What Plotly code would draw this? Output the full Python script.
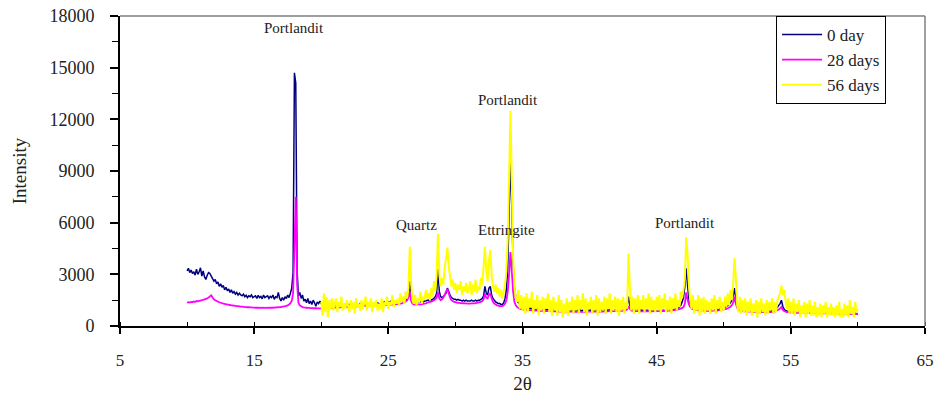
import numpy as np
import plotly.graph_objects as go

# sample grid (2-theta, degrees)
X0_START, X_STEP = 10.0, 0.1
Y56_START = 20.0

day0 = [
    3200, 3350, 3100, 3250, 3050, 3150, 2950, 3300, 3000, 3150,
    3380, 2900, 3200, 2850, 2700, 2950, 3100, 3050, 2900, 2750,
    2600, 2700, 2450, 2550, 2300, 2450, 2250, 2350, 2100, 2250,
    2050, 2150, 1950, 2100, 1900, 2000, 1850, 1950, 1800, 1900,
    1800, 1750, 1850, 1700, 1780, 1650, 1750, 1700, 1800, 1650,
    1700, 1750, 1600, 1780, 1650, 1720, 1580, 1800, 1650, 1700,
    1750, 1600, 1720, 1650, 1800, 1550, 1700, 1650, 1950, 1600,
    1450, 1650, 1500, 1700, 1600, 1800, 1650, 1900, 2200, 3100,
    14700, 14100, 3200, 1750, 1950, 1600, 1800, 1450, 1550, 1350,
    1600, 1300, 1450, 1250, 1500, 1350, 1150, 1400, 1300, 1450,
    1300, 1250, 1350, 1200, 1300, 1150, 1250, 1200, 1300, 1250,
    1200, 1300, 1150, 1250, 1200, 1350, 1200, 1250, 1150, 1300,
    1250, 1200, 1300, 1150, 1250, 1200, 1300, 1250, 1200, 1300,
    1250, 1300, 1200, 1350, 1250, 1300, 1200, 1250, 1300, 1250,
    1300, 1250, 1350, 1300, 1250, 1350, 1300, 1400, 1300, 1350,
    1400, 1350, 1450, 1400, 1350, 1450, 1400, 1500, 1450, 1500,
    1450, 1400, 1450, 1500, 1550, 1700, 2600, 1600, 1450, 1400,
    1400, 1450, 1400, 1450, 1400, 1450, 1400, 1450, 1450, 1500,
    1500, 1550, 1500, 1550, 1600, 1700, 1900, 3300, 2000, 1700,
    1650, 1700, 1800, 1900, 2200, 2000, 1800, 1650, 1600, 1550,
    1550, 1500, 1550, 1500, 1500, 1450, 1500, 1450, 1500, 1450,
    1450, 1450, 1500, 1450, 1450, 1500, 1450, 1500, 1500, 1550,
    1600, 1750, 2300, 1900, 1800, 2200, 2300, 1800, 1600, 1500,
    1400, 1350, 1300, 1300, 1250, 1250, 1350, 1600, 2100, 3400,
    6500, 9600, 7000, 3600, 2200, 1700, 1450, 1350, 1300, 1250,
    1150, 1100, 1100, 1050, 1050, 1020, 1030, 1000, 1010, 990,
    980, 1000, 960, 990, 950, 970, 940, 980, 950, 960,
    930, 960, 920, 950, 930, 950, 910, 940, 920, 940,
    910, 930, 890, 920, 900, 930, 890, 910, 890, 920,
    890, 920, 900, 930, 890, 910, 890, 930, 900, 920,
    900, 930, 890, 920, 910, 940, 900, 920, 900, 930,
    910, 940, 900, 930, 910, 950, 910, 940, 930, 960,
    940, 970, 930, 960, 950, 980, 960, 1020, 1150, 1700,
    1200, 980, 950, 920, 950, 910, 940, 900, 930, 910,
    890, 930, 900, 920, 890, 930, 880, 910, 890, 920,
    880, 910, 890, 930, 900, 920, 890, 940, 910, 940,
    920, 960, 940, 980, 970, 1010, 1040, 1100, 1200, 1400,
    1650, 2300, 3350, 2400, 1550, 1250, 1080, 1020, 980, 950,
    920, 950, 900, 940, 900, 930, 900, 940, 910, 950,
    920, 960, 930, 960, 940, 980, 970, 1000, 1020, 1050,
    1070, 1100, 1130, 1180, 1250, 1350, 1500, 1750, 2200, 1550,
    1150, 1000, 960, 920, 940, 900, 930, 890, 920, 880,
    900, 870, 890, 860, 880, 850, 870, 860, 880, 850,
    870, 840, 860, 850, 870, 860, 890, 910, 940, 1000,
    1080, 1200, 1300, 1500, 1150, 980, 900, 870, 850, 840,
    850, 820, 840, 810, 830, 800, 820, 800, 810, 790,
    810, 780, 800, 780, 790, 770, 790, 770, 790, 760,
    780, 750, 770, 750, 760, 740, 760, 740, 760, 740,
    750, 730, 750, 720, 740, 720, 740, 720, 740, 710,
    730, 710, 730, 700, 720, 700, 720, 700, 720, 700,
    710,
]

days28 = [
    1350, 1380, 1360, 1400, 1390, 1420, 1400, 1450, 1430, 1460,
    1480, 1500, 1520, 1550, 1580, 1600, 1650, 1720, 1780, 1650,
    1550, 1500, 1450, 1420, 1380, 1350, 1330, 1300, 1280, 1260,
    1250, 1230, 1220, 1200, 1190, 1180, 1170, 1160, 1150, 1140,
    1130, 1120, 1110, 1100, 1100, 1090, 1090, 1080, 1080, 1070,
    1070, 1060, 1070, 1060, 1050, 1060, 1050, 1060, 1050, 1050,
    1060, 1050, 1060, 1070, 1060, 1080, 1070, 1090, 1080, 1100,
    1100, 1120, 1130, 1150, 1170, 1200, 1250, 1330, 1450, 1900,
    4500, 7500, 2400, 1350, 1200, 1150, 1100, 1080, 1070, 1060,
    1050, 1050, 1040, 1040, 1030, 1030, 1030, 1020, 1020, 1020,
    1020, 1030, 1030, 1040, 1040, 1050, 1050, 1060, 1060, 1070,
    1070, 1080, 1080, 1090, 1090, 1100, 1100, 1100, 1110, 1110,
    1110, 1120, 1120, 1120, 1130, 1130, 1130, 1140, 1140, 1140,
    1150, 1150, 1150, 1160, 1160, 1160, 1170, 1170, 1170, 1180,
    1180, 1180, 1190, 1190, 1200, 1200, 1200, 1210, 1210, 1220,
    1220, 1230, 1230, 1240, 1240, 1250, 1260, 1270, 1280, 1300,
    1320, 1350, 1380, 1420, 1500, 1650, 2000, 1450, 1300, 1250,
    1240, 1240, 1250, 1250, 1260, 1270, 1280, 1300, 1320, 1350,
    1380, 1400, 1420, 1450, 1500, 1550, 1650, 1950, 1600, 1500,
    1550, 1650, 1800, 2000, 2150, 1900, 1650, 1500, 1450, 1400,
    1380, 1360, 1350, 1340, 1330, 1320, 1320, 1310, 1310, 1300,
    1300, 1300, 1310, 1310, 1320, 1330, 1340, 1360, 1380, 1400,
    1450, 1550, 1850, 1650, 1600, 1800, 1900, 1600, 1400, 1300,
    1250, 1200, 1180, 1160, 1150, 1150, 1200, 1300, 1500, 2000,
    3000, 4300, 3200, 2000, 1400, 1200, 1100, 1050, 1000, 980,
    960, 950, 940, 930, 930, 920, 920, 910, 910, 900,
    900, 890, 890, 880, 880, 880, 870, 870, 870, 870,
    860, 860, 860, 850, 850, 850, 850, 840, 840, 840,
    840, 840, 830, 830, 830, 830, 830, 830, 820, 820,
    820, 820, 820, 820, 820, 820, 820, 820, 820, 830,
    830, 830, 830, 830, 830, 840, 840, 840, 840, 840,
    840, 850, 850, 850, 850, 860, 860, 860, 860, 870,
    870, 870, 880, 880, 880, 890, 900, 920, 960, 1150,
    1000, 900, 880, 870, 870, 860, 860, 860, 850, 850,
    850, 850, 850, 850, 850, 850, 850, 850, 860, 860,
    860, 860, 860, 870, 870, 870, 880, 880, 890, 890,
    900, 900, 910, 920, 930, 940, 960, 980, 1010, 1050,
    1100, 1300, 1950, 1550, 1250, 1100, 1020, 980, 950, 930,
    920, 910, 900, 900, 890, 890, 890, 880, 880, 880,
    880, 880, 890, 890, 900, 900, 910, 920, 930, 950,
    960, 980, 1000, 1030, 1070, 1120, 1200, 1350, 1700, 1300,
    1050, 950, 900, 880, 860, 850, 850, 840, 840, 830,
    830, 830, 820, 820, 820, 810, 810, 810, 810, 800,
    800, 800, 800, 800, 800, 800, 810, 820, 840, 870,
    910, 960, 1020, 1100, 950, 870, 830, 810, 800, 790,
    790, 780, 780, 780, 770, 770, 770, 770, 760, 760,
    760, 760, 760, 750, 750, 750, 750, 750, 750, 740,
    740, 740, 740, 740, 740, 740, 730, 730, 730, 730,
    730, 730, 730, 730, 720, 720, 720, 720, 720, 720,
    720, 720, 720, 720, 720, 710, 710, 710, 710, 710,
    710,
]

days56 = [
    1400, 600, 1900, 800, 1700, 500, 1500, 1000, 1600, 900,
    1300, 1600, 800, 1400, 1100, 1700, 900, 1300, 1000, 1500,
    1200, 800, 1500, 1000, 1400, 700, 1600, 1100, 1300, 900,
    1500, 1000, 1300, 1700, 900, 1400, 1100, 1600, 800, 1400,
    1100, 1500, 900, 1300, 1000, 1600, 800, 1400, 1200, 1700,
    1000, 1400, 1200, 1800, 1100, 1500, 1300, 1600, 1200, 1900,
    1400, 1700, 1300, 2000, 1600, 2200, 4600, 2500, 1500, 1300,
    1800, 1200, 1600, 1400, 2000, 1300, 1700, 1500, 2100, 1600,
    1900, 1500, 2200, 1700, 2600, 2000, 2900, 5350, 3000, 2300,
    2800, 2400, 3400, 3900, 4550, 3500, 2900, 2300, 2700, 2100,
    2500, 1900, 2400, 2100, 2600, 1800, 2300, 2000, 2500, 1900,
    2200, 2600, 1800, 2400, 2000, 2700, 1900, 2300, 2100, 2800,
    2400, 3500, 4600, 3200, 2600, 3800, 4400, 3000, 2300, 2000,
    2400, 1900, 2200, 1700, 2100, 1600, 2000, 2400, 3200, 5000,
    8500, 12500, 8500, 4000, 2300, 1600, 1400, 2100, 1000, 1800,
    900, 1700, 700, 1900, 800, 1600, 1100, 2000, 700, 1500,
    1000, 1800, 600, 1500, 900, 1700, 700, 1600, 1000, 1900,
    800, 1500, 600, 1700, 900, 1400, 600, 1800, 800, 1500,
    500, 1300, 700, 1600, 600, 1400, 900, 1700, 700, 1500,
    900, 1800, 700, 1500, 1000, 1900, 800, 1600, 600, 1400,
    1000, 1700, 700, 1500, 900, 1800, 600, 1600, 800, 1400,
    900, 1700, 700, 1600, 1000, 1900, 700, 1500, 900, 1700,
    800, 1600, 600, 1500, 900, 1700, 700, 1400, 1000, 4200,
    2300, 900, 1700, 700, 1600, 900, 1800, 700, 1500, 1000,
    1800, 800, 1600, 1000, 1900, 700, 1700, 900, 1500, 800,
    1700, 900, 1800, 700, 1600, 1000, 1900, 800, 1500, 900,
    1700, 700, 1600, 1000, 1900, 900, 1500, 1100, 2000, 1600,
    2100, 2700, 5150, 4200, 2400, 1500, 1000, 1800, 700, 1500,
    900, 1800, 600, 1600, 800, 1700, 700, 1500, 900, 1400,
    700, 1600, 900, 1800, 700, 1500, 1000, 1700, 800, 1400,
    900, 1700, 1100, 1900, 1200, 2100, 1500, 2400, 3950, 2800,
    1200, 800, 1700, 700, 1500, 800, 1600, 600, 1400, 800,
    1600, 600, 1300, 800, 1500, 500, 1400, 700, 1600, 800,
    1300, 600, 1500, 700, 1400, 900, 1600, 700, 1400, 800,
    1500, 1700, 1900, 2350, 1800, 2100, 1500, 1000, 1600, 700,
    1400, 700, 1600, 600, 1300, 800, 1500, 500, 1200, 700,
    1400, 500, 1300, 700, 1500, 600, 1200, 600, 1400, 500,
    1100, 600, 1300, 500, 1200, 700, 1400, 500, 1100, 600,
    1300, 600, 1100, 500, 1200, 600, 1400, 500, 1000, 500,
    1300, 600, 1200, 500, 1500, 700, 1100, 500, 1400, 800,
    1000,
]

series_names = ["0 day", "28 days", "56 days"]
series_colors = ["#000080", "#FF00FF", "#FFFF00"]

x_full = np.round(X0_START + X_STEP * np.arange(len(day0)), 2)
x_56 = np.round(Y56_START + X_STEP * np.arange(len(days56)), 2)

peak_labels = ["Portlandit", "Portlandit", "Quartz", "Ettringite", "Portlandit"]
peak_label_x = [18.0, 33.9, 27.1, 33.8, 47.1]
peak_label_y = [17300, 13100, 5850, 5550, 6000]

x_ticks = [5, 15, 25, 35, 45, 55, 65]
y_ticks = [0, 3000, 6000, 9000, 12000, 15000, 18000]

FONT = "Liberation Serif, Times New Roman, serif"

fig = go.Figure()
fig.add_trace(go.Scatter(x=x_full, y=day0, mode="lines", name=series_names[0],
                         line=dict(color=series_colors[0], width=1.5, simplify=False)))
fig.add_trace(go.Scatter(x=x_full, y=days28, mode="lines", name=series_names[1],
                         line=dict(color=series_colors[1], width=1.8, simplify=False)))
fig.add_trace(go.Scatter(x=x_56, y=days56, mode="lines", name=series_names[2],
                         line=dict(color=series_colors[2], width=2, simplify=False)))

for t, ax, ay in zip(peak_labels, peak_label_x, peak_label_y):
    fig.add_annotation(x=ax, y=ay, text=t, showarrow=False,
                       font=dict(family=FONT, size=15, color="#222222"))

# grey frame on top and right
fig.add_shape(type="line", xref="paper", yref="paper", x0=0, x1=1, y0=1, y1=1,
              line=dict(color="#7f7f7f", width=1.5))
fig.add_shape(type="line", xref="paper", yref="paper", x0=1, x1=1, y0=0, y1=1,
              line=dict(color="#7f7f7f", width=1.5))

fig.update_layout(
    width=936, height=394,
    margin=dict(l=120, r=11, t=16, b=68, autoexpand=False),
    paper_bgcolor="white", plot_bgcolor="white",
    font=dict(family=FONT, color="#222222"),
    showlegend=True,
    legend=dict(x=0.9516, xanchor="right", y=1.0, yanchor="top",
                bgcolor="white", bordercolor="black", borderwidth=1,
                font=dict(family=FONT, size=17, color="#222222"),
                itemwidth=40, tracegroupgap=0),
    xaxis=dict(range=[5, 65], tickvals=x_ticks, showgrid=False, zeroline=False,
               automargin=False,
               showline=True, linecolor="black", linewidth=2,
               ticks="outside", ticklen=6, tickwidth=1.5, tickcolor="black",
               minor=dict(dtick=5, tick0=5, ticks="inside", ticklen=4,
                          tickwidth=1, tickcolor="black"),
               tickfont=dict(family=FONT, size=17, color="#222222"),
               ticklabelstandoff=12,
               title=dict(text="2θ", font=dict(family=FONT, size=19, color="#222222"),
                          standoff=12)),
    yaxis=dict(range=[0, 18000], tickvals=y_ticks, tickformat="d",
               showgrid=False, zeroline=False, automargin=False,
               showline=True, linecolor="black", linewidth=2,
               ticks="outside", ticklen=8, tickwidth=1.5, tickcolor="black",
               minor=dict(dtick=1500, tick0=0, ticks="outside", ticklen=6,
                          tickwidth=1, tickcolor="black"),
               tickfont=dict(family=FONT, size=18, color="#222222"),
               ticklabelstandoff=12,
               title=dict(text="Intensity", font=dict(family=FONT, size=19, color="#222222"),
                          standoff=18)),
)

fig.write_html("out.html")
